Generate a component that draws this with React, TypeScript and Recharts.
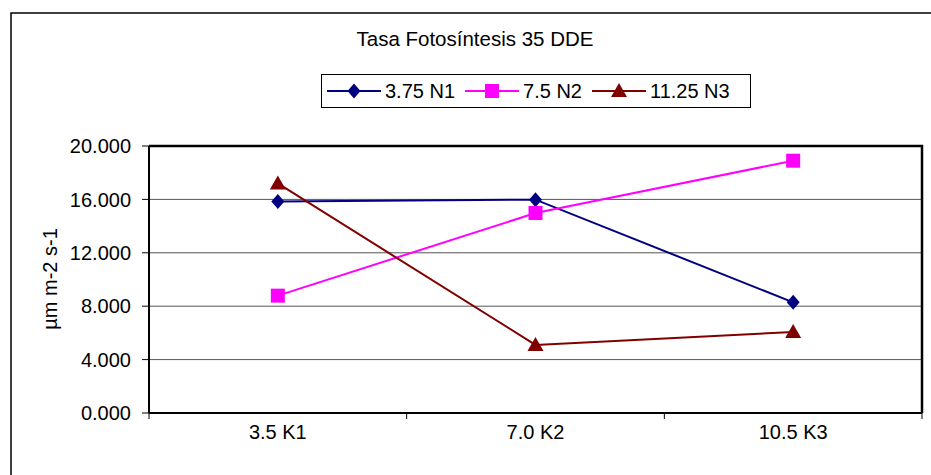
import React from 'react';
import {
  LineChart,
  Line,
  XAxis,
  YAxis,
  CartesianGrid,
  Legend,
} from 'recharts';

// Potassium levels along the x axis
const categories = ['3.5 K1', '7.0 K2', '10.5 K3'];

// Photosynthesis rate (µm m-2 s-1) per nitrogen level
const n1Values = [15.85, 15.98, 8.29];
const n2Values = [8.79, 14.98, 18.9];
const n3Values = [17.2, 5.1, 6.07];

const yTicks = [0, 4, 8, 12, 16, 20];

const seriesNames = ['3.75 N1', '7.5 N2', '11.25 N3'];
const seriesColors = ['#000080', '#FF00FF', '#800000'];
const seriesKeys = ['n1', 'n2', 'n3'];

const data = categories.map((name, i) => ({
  name,
  n1: n1Values[i],
  n2: n2Values[i],
  n3: n3Values[i],
}));

const WIDTH = 931;
const HEIGHT = 475;
const MARGIN = { top: 146, right: 9, bottom: 22, left: 0 };
const Y_AXIS_WIDTH = 149;
const X_AXIS_HEIGHT = 40;
const FONT = '"Liberation Sans", Arial, sans-serif';

// Plot-area rectangle implied by the chart margins and axis sizes
const PLOT_X = MARGIN.left + Y_AXIS_WIDTH;
const PLOT_Y = MARGIN.top;
const PLOT_W = WIDTH - MARGIN.left - MARGIN.right - Y_AXIS_WIDTH;
const PLOT_H = HEIGHT - MARGIN.top - MARGIN.bottom - X_AXIS_HEIGHT;

const FRAME = { stroke: '#000', strokeWidth: 2 };

type Shape = 'diamond' | 'square' | 'triangle';
const shapes: Shape[] = ['diamond', 'square', 'triangle'];

function markerPath(shape: Shape, cx: number, cy: number): string {
  if (shape === 'diamond') {
    return `M${cx},${cy - 7.5}L${cx + 6.5},${cy}L${cx},${cy + 7.5}L${cx - 6.5},${cy}Z`;
  }
  if (shape === 'square') {
    return `M${cx - 7},${cy - 7}h14v14h-14Z`;
  }
  return `M${cx},${cy - 8}L${cx + 8},${cy + 6}L${cx - 8},${cy + 6}Z`;
}

const makeDot = (shape: Shape, color: string) => (props: any) => {
  const { cx, cy, index } = props;
  if (cx == null || cy == null) return <g key={`e-${index}`} />;
  return <path key={`${shape}-${index}`} d={markerPath(shape, cx, cy)} fill={color} stroke="none" />;
};

// Category labels sit in the middle of each band; tick marks sit on the band edges.
const CategoryTick = (props: any) => {
  const { x, y, payload, index, visibleTicksCount } = props;
  const half =
    payload && typeof payload.offset === 'number' && payload.offset > 0
      ? payload.offset
      : PLOT_W / categories.length / 2;
  const axisY = y - 12;
  const isLast = index === (visibleTicksCount ?? categories.length) - 1;
  return (
    <g>
      <line x1={x - half} x2={x - half} y1={axisY} y2={axisY + 6} stroke="#000" strokeWidth={1} />
      {isLast && (
        <line x1={x + half} x2={x + half} y1={axisY} y2={axisY + 6} stroke="#000" strokeWidth={1} />
      )}
      <text x={x} y={y} dy="0.71em" textAnchor="middle" fontFamily={FONT} fontSize={20} fill="#000">
        {payload.value}
      </text>
    </g>
  );
};

const LegendBox = () => (
  <div
    style={{
      display: 'flex',
      alignItems: 'center',
      boxSizing: 'border-box',
      width: 430,
      height: 34,
      border: '1px solid #000',
      background: '#fff',
      paddingLeft: 5,
      fontFamily: FONT,
      fontSize: 20,
      color: '#000',
      whiteSpace: 'nowrap',
    }}
  >
    {seriesNames.map((name, i) => (
      <div key={name} style={{ display: 'flex', alignItems: 'center', marginRight: i < 2 ? 10 : 0 }}>
        <svg width={54} height={20} style={{ display: 'block' }}>
          <line x1={0} x2={54} y1={10} y2={10} stroke={seriesColors[i]} strokeWidth={2} />
          <path d={markerPath(shapes[i], 27, 10)} fill={seriesColors[i]} />
        </svg>
        <span style={{ marginLeft: 4 }}>{name}</span>
      </div>
    ))}
  </div>
);

export default function App() {
  return (
    <div style={{ position: 'absolute', left: 0, top: 0, width: WIDTH, height: HEIGHT, background: '#fff' }}>
      <svg
        width={WIDTH}
        height={HEIGHT}
        style={{ position: 'absolute', left: 0, top: 0, pointerEvents: 'none' }}
      >
        <rect x={11} y={13} width={940} height={480} fill="none" stroke="#000" strokeWidth={1.5} />
        <text x={475} y={46} textAnchor="middle" fontFamily={FONT} fontSize={20.5} fill="#000">
          Tasa Fotosíntesis 35 DDE
        </text>
        <text
          x={50}
          y={279}
          transform="rotate(-90 50 279)"
          textAnchor="middle"
          dominantBaseline="central"
          fontFamily={FONT}
          fontSize={20}
          fill="#000"
        >
          µm m-2 s-1
        </text>
      </svg>
      <div style={{ position: 'absolute', left: 0, top: 0 }}>
        <LineChart width={WIDTH} height={HEIGHT} data={data} margin={MARGIN}>
          <CartesianGrid horizontal vertical={false} stroke="#555" strokeWidth={1} />
          <XAxis
            dataKey="name"
            scale="band"
            height={X_AXIS_HEIGHT}
            axisLine={FRAME}
            tickLine={false}
            tickSize={6}
            tickMargin={6}
            interval={0}
            tick={<CategoryTick />}
          />
          <YAxis
            width={Y_AXIS_WIDTH}
            domain={[0, 20]}
            ticks={yTicks}
            interval={0}
            tickFormatter={(v: number) => v.toFixed(3)}
            axisLine={FRAME}
            tickLine={{ stroke: '#000', strokeWidth: 1 }}
            tickSize={7}
            tickMargin={11}
            tick={{ fontFamily: FONT, fontSize: 20, fill: '#000' }}
          />
          <Legend
            layout="horizontal"
            verticalAlign="middle"
            align="center"
            content={<LegendBox />}
            wrapperStyle={{ position: 'absolute', left: 321, top: 74, width: 430, height: 34 }}
          />
          {seriesKeys.map((key, i) => (
            <Line
              key={key}
              type="linear"
              dataKey={key}
              name={seriesNames[i]}
              stroke={seriesColors[i]}
              strokeWidth={2}
              dot={makeDot(shapes[i], seriesColors[i])}
              activeDot={false}
              isAnimationActive={false}
            />
          ))}
        </LineChart>
      </div>
      {/* plot-area frame */}
      <svg
        width={WIDTH}
        height={HEIGHT}
        style={{ position: 'absolute', left: 0, top: 0, pointerEvents: 'none', zIndex: 2 }}
      >
        <path
          d={`M${PLOT_X},${PLOT_Y}H${PLOT_X + PLOT_W}V${PLOT_Y + PLOT_H}`}
          fill="none"
          stroke="#000"
          strokeWidth={2.5}
        />
      </svg>
    </div>
  );
}
